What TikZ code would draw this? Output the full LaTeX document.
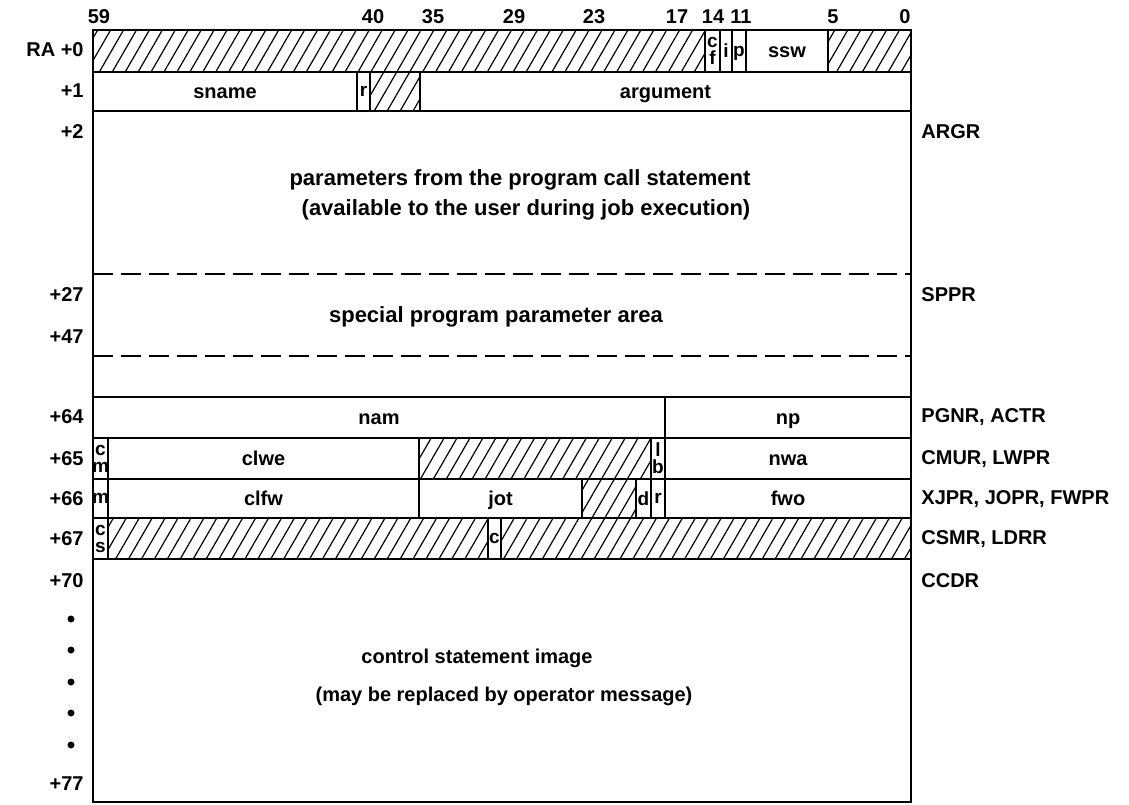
\documentclass[tikz,border=0pt]{standalone}
\usepackage{fontspec}
\setmainfont{Liberation Sans}
\usetikzlibrary{patterns.meta}

\begin{document}
\begin{tikzpicture}[x=0.5pt,y=-0.5pt,
    fld/.style={draw, line width=1.1pt},
    hatch/.style={fld, pattern={Lines[angle=60,distance=5.6pt,line width=0.6pt]}},
    lbl/.style={font=\fontsize{10}{11}\selectfont\bfseries, inner sep=0pt},
    fldtxt/.style={lbl, text height=1.5ex, text depth=0.25ex},
    tiny/.style={font=\fontsize{9.5}{8.5}\selectfont\bfseries, align=center, inner sep=0pt},
    big/.style={font=\fontsize{11}{12}\selectfont\bfseries, inner sep=0pt},
    dashsep/.style={line width=1.1pt, dash pattern=on 10pt off 4pt},
  ]
  \useasboundingbox (0,0) rectangle (1129,804);

  % bit numbers
  \foreach \b/\x in {59/99,40/373,35/433,29/514,23/594,17/677,14/713,11/741,5/833,0/905}
    \node[lbl] (bit\b) at (\x,17) {\b};

  % RA+0
  \draw[hatch] (93,30) rectangle (705,72);
  \draw[fld] (705,30) rectangle (720,72) node[midway,tiny] (cf) {c\\f};
  \draw[fld] (720,30) rectangle (732,72) node[midway,tiny] (iflag) {i};
  \draw[fld] (732,30) rectangle (746,72) node[midway,tiny,yshift=-1] (pflag) {p};
  \draw[fld] (746,30) rectangle (828,72) node[midway,fldtxt] (ssw) {ssw};
  \draw[hatch] (828,30) rectangle (911,72);

  % +1
  \draw[fld] (93,72) rectangle (357,111) node[midway,fldtxt] (sname) {sname};
  \draw[fld] (357,72) rectangle (370,111) node[midway,tiny] (rflag) {r};
  \draw[hatch] (370,72) rectangle (420,111);
  \draw[fld] (420,72) rectangle (911,111) node[midway,fldtxt] (argument) {argument};

  % +2 .. +63
  \draw[fld] (93,111) rectangle (911,397);
  \draw[dashsep] (93,274) -- (911,274);
  \draw[dashsep] (93,356) -- (911,356);
  \node[big] (parm1) at (520,180) {parameters from the program call statement};
  \node[big] (parm2) at (526,210) {(available to the user during job execution)};
  \node[big] (sppa) at (496,317) {special program parameter area};

  % +64
  \draw[fld] (93,397) rectangle (665,438) node[midway,fldtxt] (nam) {nam};
  \draw[fld] (665,397) rectangle (911,438) node[midway,fldtxt] (np) {np};

  % +65
  \draw[fld] (93,438) rectangle (108,479) node[midway,tiny] (cm) {c\\m};
  \draw[fld] (108,438) rectangle (419,479) node[midway,fldtxt] (clwe) {clwe};
  \draw[hatch] (419,438) rectangle (651,479);
  \draw[fld] (651,438) rectangle (665,479) node[midway,tiny] (lb) {l\\b};
  \draw[fld] (665,438) rectangle (911,479) node[midway,fldtxt] (nwa) {nwa};

  % +66
  \draw[fld] (93,479) rectangle (108,518) node[midway,tiny] (mflag) {m};
  \draw[fld] (108,479) rectangle (419,518) node[midway,fldtxt] (clfw) {clfw};
  \draw[fld] (419,479) rectangle (582,518) node[midway,fldtxt] (jot) {jot};
  \draw[hatch] (582,479) rectangle (636,518);
  \draw[fld] (636,479) rectangle (651,518) node[midway,tiny] (dflag) {d};
  \draw[fld] (651,479) rectangle (665,518) node[midway,tiny] (rflag2) {r};
  \draw[fld] (665,479) rectangle (911,518) node[midway,fldtxt] (fwo) {fwo};

  % +67
  \draw[fld] (93,518) rectangle (108,559) node[midway,tiny] (cs) {c\\s};
  \draw[hatch] (108,518) rectangle (488,559);
  \draw[fld] (488,518) rectangle (501,559) node[midway,tiny] (cflag) {c};
  \draw[hatch] (501,518) rectangle (911,559);

  % +70 .. +77
  \draw[fld] (93,559) rectangle (911,802);
  \node[lbl] (csi1) at (477,658) {control statement image};
  \node[lbl] (csi2) at (504,696) {(may be replaced by operator message)};

  % word offsets
  \foreach \t/\y [count=\i] in {RA +0/50,+1/91,+2/132,+27/295,+47/337,+64/417,+65/459,+66/499,+67/539,+70/581,+77/784}
    \node[lbl, anchor=east] (off\i) at (84,\y) {\t};
  \foreach \y in {619,650,682,713,745}
    \fill (71,\y) circle (3.5);

  % register names
  \foreach \t/\y [count=\i] in {ARGR/132,SPPR/295,{PGNR, ACTR}/417,{CMUR, LWPR}/459,{XJPR, JOPR, FWPR}/499,{CSMR, LDRR}/539,CCDR/581}
    \node[lbl, anchor=west] (reg\i) at (921,\y) {\t};
\end{tikzpicture}
\end{document}
